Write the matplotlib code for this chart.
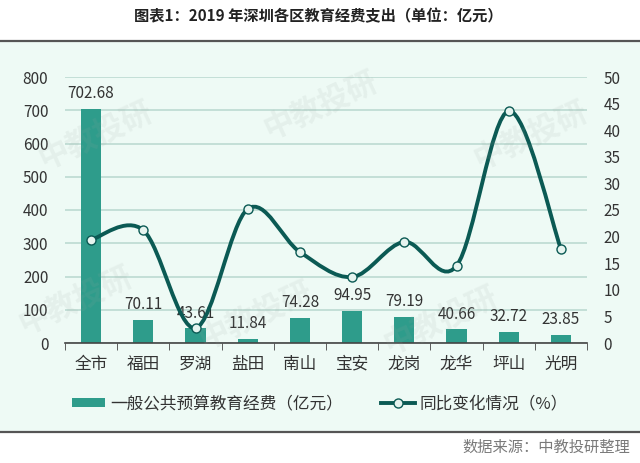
import matplotlib
matplotlib.use("Agg")
import matplotlib.pyplot as plt
from matplotlib.path import Path
from matplotlib.patches import PathPatch, Patch
from matplotlib.lines import Line2D

plt.rcParams['font.family'] = ['Noto Sans CJK SC', 'DejaVu Sans']

# data
districts = ['全市', '福田', '罗湖', '盐田', '南山', '宝安', '龙岗', '龙华', '坪山', '光明']
spending = [702.68, 70.11, 43.61, 11.84, 74.28, 94.95, 79.19, 40.66, 32.72, 23.85]
yoy_pct = [19.4, 21.2, 2.8, 25.2, 17.1, 12.4, 19.0, 14.5, 43.6, 17.7]
left_ticks = list(range(0, 801, 100))
right_ticks = list(range(0, 51, 5))

bar_color = '#2e9c8b'
line_color = '#0b5a54'
bg_color = '#eefaf5'
grid_color = '#bcdad2'
text_color = '#333333'

fig = plt.figure(figsize=(6.4, 4.63), dpi=100)
fig.patch.set_facecolor('white')

# mint panel with top/bottom rules
fig.patches.append(plt.Rectangle((0, 1 - 432 / 463), 1, (432 - 41) / 463,
                                 transform=fig.transFigure, facecolor=bg_color,
                                 edgecolor='none', zorder=-10))
for yy in (41, 432):
    fig.add_artist(Line2D([0, 1], [1 - yy / 463] * 2, transform=fig.transFigure,
                          color='#555555', lw=1.6))

fig.text(318 / 640, 1 - 16 / 463, '图表1：2019 年深圳各区教育经费支出（单位：亿元）',
         ha='center', va='center', fontsize=11, fontweight='bold', color='#222222')
fig.text(630 / 640, 1 - 447 / 463, '数据来源：中教投研整理', ha='right', va='center',
         fontsize=11, color='#7a7a7a')

ax = fig.add_axes([65 / 640, 1 - 343 / 463, 522 / 640, 266 / 463])
ax.set_facecolor('none')
x = list(range(len(districts)))

bars = ax.bar(x, spending, width=0.385, color=bar_color, zorder=2)
for xi, v in zip(x, spending):
    ax.annotate(f'{v:.2f}', (xi, v), xytext=(0, 5), textcoords='offset points',
                ha='center', va='bottom', fontsize=11, color=text_color, zorder=5)

ax.set_xlim(-0.5, len(districts) - 0.5)
ax.set_ylim(0, 800)
ax.set_yticks(left_ticks)
ax.grid(axis='y', color=grid_color, lw=1.2, zorder=0)
ax.set_axisbelow(True)
ax.set_xticks(x)
ax.set_xticklabels(districts, fontsize=12, color=text_color)
ax.set_xticks([i - 0.5 for i in range(len(districts) + 1)], minor=True)
ax.tick_params(axis='x', which='major', length=0, pad=9)
ax.tick_params(axis='x', which='minor', length=5, direction='out', color='#444444')
ax.tick_params(axis='y', length=0, labelsize=11, colors=text_color, pad=12)
for s in ('top', 'left', 'right'):
    ax.spines[s].set_visible(False)
ax.spines['bottom'].set_color('#444444')
ax.spines['bottom'].set_linewidth(1.2)

ax2 = ax.twinx()
ax2.set_ylim(0, 50)
ax2.set_yticks(right_ticks)
ax2.tick_params(axis='y', length=0, labelsize=11, colors=text_color, pad=12)
for s in ax2.spines.values():
    s.set_visible(False)

# smoothed line (Bezier through the data points, like a spreadsheet's smooth line)
pts = list(zip(x, yoy_pct))
verts = [pts[0]]
codes = [Path.MOVETO]
n = len(pts)
for i in range(n - 1):
    p0 = pts[i - 1] if i > 0 else pts[i]
    p1 = pts[i]
    p2 = pts[i + 1]
    p3 = pts[i + 2] if i + 2 < n else pts[i + 1]
    c1 = (p1[0] + (p2[0] - p0[0]) / 6, p1[1] + (p2[1] - p0[1]) / 6)
    c2 = (p2[0] - (p3[0] - p1[0]) / 6, p2[1] - (p3[1] - p1[1]) / 6)
    verts += [c1, c2, p2]
    codes += [Path.CURVE4] * 3
ax2.add_patch(PathPatch(Path(verts, codes), facecolor='none', edgecolor=line_color,
                        lw=2.8, zorder=3, capstyle='round'))
ax2.plot(x, yoy_pct, ls='none', marker='o', ms=6.5, mfc='#e6f4ef', mec=line_color,
         mew=1, zorder=4)

# watermarks
for wx, wy in [(95, 135), (320, 105), (530, 135), (75, 300), (255, 315), (440, 320)]:
    fig.text(wx / 640, 1 - wy / 463, '中教投研', fontsize=22, fontweight='bold',
             color='#9aa5a0', alpha=0.12, rotation=25, ha='center', va='center',
             zorder=10)

handles = [Patch(facecolor=bar_color, edgecolor='none'),
           Line2D([], [], color=line_color, lw=2.8, marker='o', ms=6.5,
                  mfc='#e6f4ef', mec=line_color, mew=1)]
fig.legend(handles, ['一般公共预算教育经费（亿元）', '同比变化情况（%）'],
           loc='center', bbox_to_anchor=(320 / 640, 1 - 404 / 463), ncol=2, frameon=False,
           fontsize=12, handlelength=2.0, handleheight=0.5, columnspacing=2.3,
           handletextpad=0.3, labelcolor=text_color)

fig.savefig('out.png', dpi=100)
